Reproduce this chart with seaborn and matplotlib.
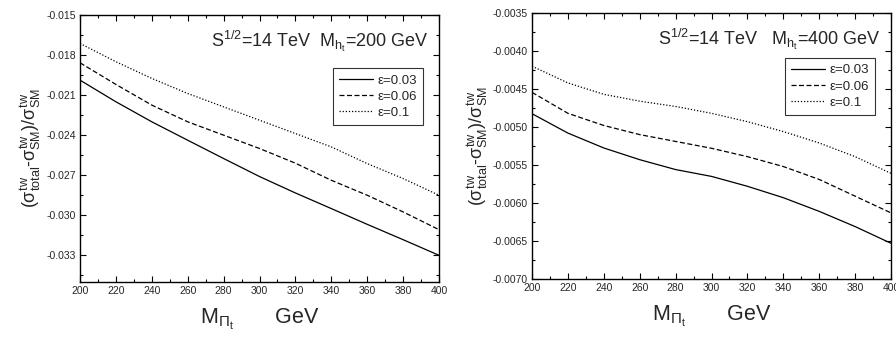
import numpy as np
import pandas as pd
import seaborn as sns
import matplotlib
matplotlib.use('Agg')
import matplotlib.pyplot as plt
from matplotlib.ticker import MultipleLocator, FormatStrFormatter

mass = [200, 220, 240, 260, 280, 300, 320, 340, 360, 380, 400]
eps_labels = ['ε=0.03', 'ε=0.06', 'ε=0.1']

# M_ht = 200 GeV
left_e003 = [-0.01988, -0.0215, -0.0230, -0.02438, -0.02575, -0.0271, -0.02833, -0.0295, -0.03068, -0.03183, -0.0330]
left_e006 = [-0.01858, -0.0202, -0.02175, -0.0230, -0.0240, -0.0250, -0.0261, -0.02738, -0.0285, -0.02975, -0.03108]
left_e01 = [-0.01713, -0.0185, -0.01975, -0.02088, -0.02188, -0.02288, -0.02388, -0.02488, -0.02613, -0.02725, -0.0285]

# M_ht = 400 GeV
right_e003 = [-0.004825, -0.00508, -0.005276, -0.00543, -0.00556, -0.00565, -0.00578, -0.00593, -0.00611, -0.00631, -0.00653]
right_e006 = [-0.004544, -0.00482, -0.00498, -0.0051, -0.00519, -0.00528, -0.00539, -0.00552, -0.00569, -0.00591, -0.00613]
right_e01 = [-0.0042, -0.00442, -0.00457, -0.00466, -0.00473, -0.00482, -0.00493, -0.00506, -0.00521, -0.00539, -0.00561]

sns.set_theme(style='ticks')
plt.rcParams['font.family'] = ['Liberation Sans', 'DejaVu Sans']
plt.rcParams['mathtext.fontset'] = 'custom'
plt.rcParams['mathtext.rm'] = 'Liberation Sans'
plt.rcParams['mathtext.it'] = 'Liberation Sans'
plt.rcParams['mathtext.sf'] = 'Liberation Sans'


def make_df(a, b, c):
    rows = []
    for lab, vals in zip(eps_labels, [a, b, c]):
        for m, v in zip(mass, vals):
            rows.append({'mass': m, 'ratio': v, 'eps': lab})
    return pd.DataFrame(rows)


fig = plt.figure(figsize=(8.96, 3.37), dpi=100)
ax1 = fig.add_axes([80 / 896, 55 / 337, 359 / 896, 267 / 337])
ax2 = fig.add_axes([532 / 896, 58 / 337, 359 / 896, 266 / 337])

panels = [
    (ax1, make_df(left_e003, left_e006, left_e01), (-0.035, -0.015), 0.003, '%.3f',
     r'S$^{1/2}$=14 TeV  M$_{h_t}$=200 GeV', 0.80),
    (ax2, make_df(right_e003, right_e006, right_e01), (-0.0070, -0.0035), 0.0005, '%.4f',
     r'S$^{1/2}$=14 TeV   M$_{h_t}$=400 GeV', 0.83),
]

for ax, df, ylim, ystep, fmt, note, legy in panels:
    sns.lineplot(data=df, x='mass', y='ratio', style='eps', ax=ax,
                 color='black', linewidth=0.9,
                 dashes={'ε=0.03': '', 'ε=0.06': (4, 2), 'ε=0.1': (1, 1.5)})
    ax.set_xlim(200, 400)
    ax.set_ylim(*ylim)
    ax.xaxis.set_major_locator(MultipleLocator(20))
    ax.xaxis.set_minor_locator(MultipleLocator(10))
    ax.yaxis.set_major_locator(MultipleLocator(ystep))
    ax.yaxis.set_minor_locator(MultipleLocator(ystep / 2))
    ax.yaxis.set_major_formatter(FormatStrFormatter(fmt))
    ax.tick_params(which='both', direction='in', top=True, right=True,
                   labelsize=7.5, width=0.8, color='black', pad=3)
    ax.tick_params(which='major', length=4)
    ax.tick_params(which='minor', length=2)
    for sp in ax.spines.values():
        sp.set_visible(True)
        sp.set_linewidth(1.0)
        sp.set_color('black')
    ax.set_xlabel(r'M$_{\Pi_t}$       GeV', fontsize=15.5, labelpad=8)
    ax.set_ylabel(r'($\sigma^{tw}_{total}$-$\sigma^{tw}_{SM}$)/$\sigma^{tw}_{SM}$',
                  fontsize=13, labelpad=2)
    ax.text(0.97, 0.9, note, transform=ax.transAxes, ha='right', va='center',
            fontsize=13)
    leg = ax.legend(loc='upper right', bbox_to_anchor=(0.955, legy), fontsize=9.5,
                    frameon=True, fancybox=False, edgecolor='black',
                    handlelength=2.6, handletextpad=0.3, borderpad=0.45,
                    borderaxespad=0.0, labelspacing=0.3, title=None)
    leg.get_frame().set_linewidth(0.8)
    for line in leg.get_lines():
        line.set_linewidth(0.9)

fig.savefig('out.png', dpi=100)
